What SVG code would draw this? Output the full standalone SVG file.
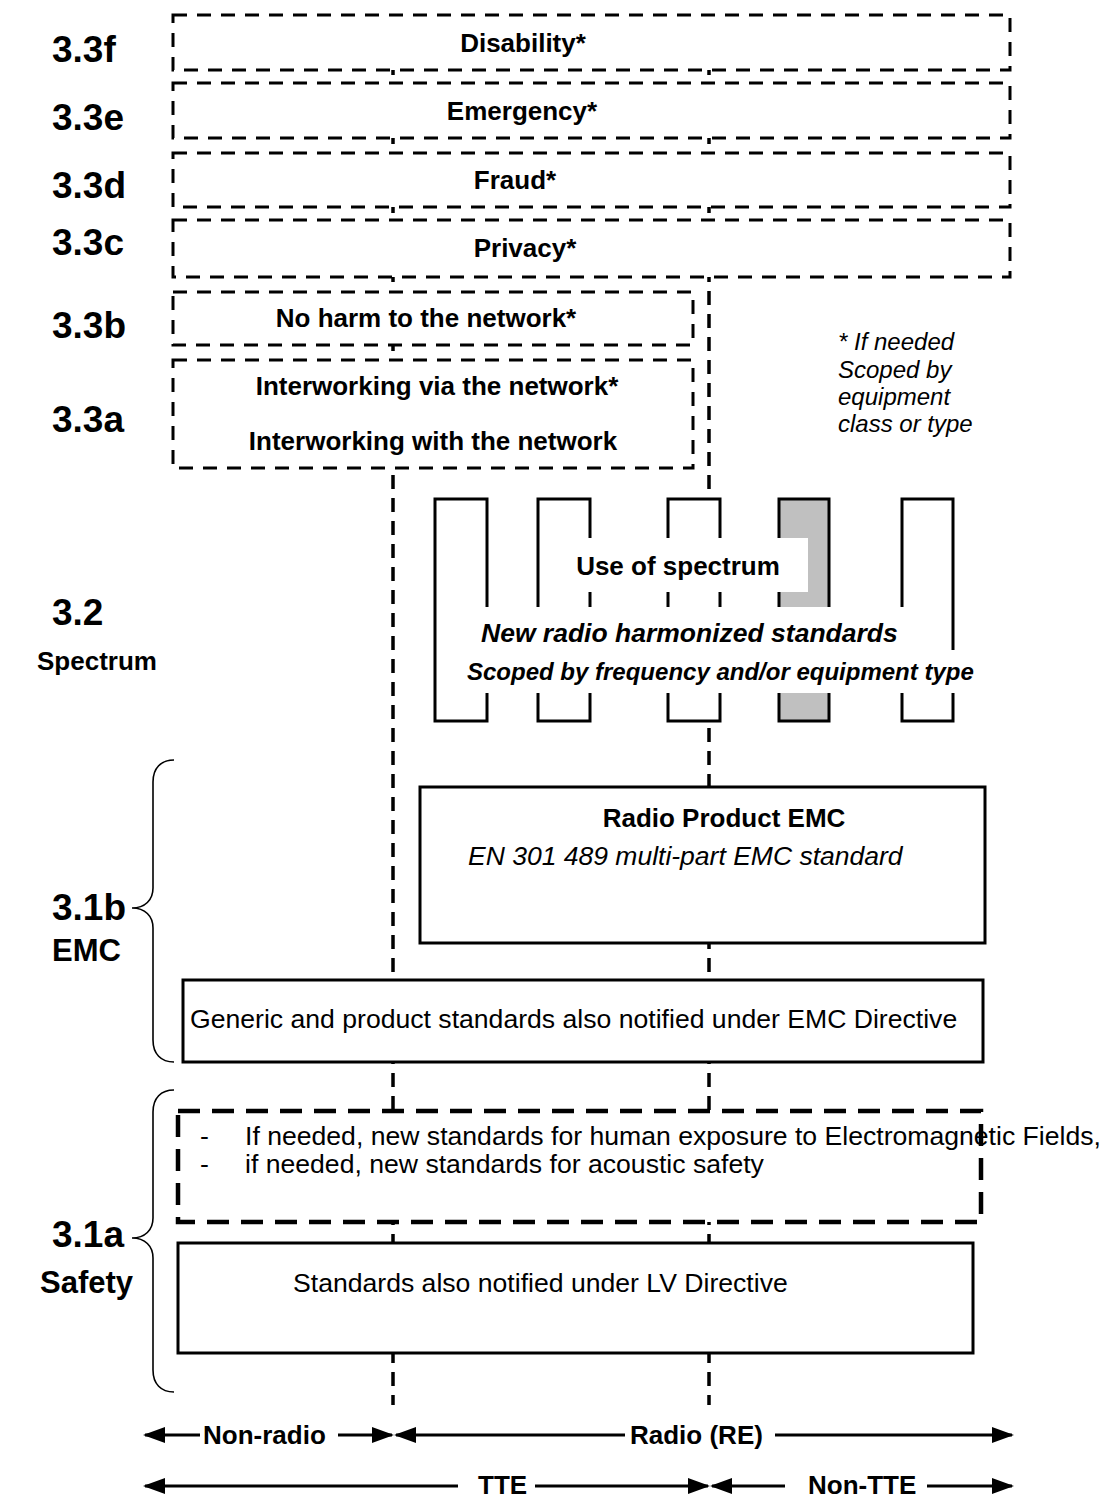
<svg xmlns="http://www.w3.org/2000/svg" width="1104" height="1499" viewBox="0 0 1104 1499">
<defs>
<marker id="ah" markerUnits="userSpaceOnUse" markerWidth="22" markerHeight="18" viewBox="0 0 22 18" refX="20" refY="9" orient="auto">
<path d="M0,1 L22,9 L0,17 z" fill="#000"/>
</marker>
<style>
text{font-family:"Liberation Sans",Arial,sans-serif;fill:#000}
.b{font-weight:bold;font-size:26px}
.r{font-size:26.6px}
.bi{font-weight:bold;font-style:italic;font-size:26.5px}
.i{font-style:italic;font-size:26.5px}
.num{font-weight:bold;font-size:37px}
.sec{font-weight:bold;font-size:31px}
.topbox{fill:#fff;stroke:#000;stroke-width:3;stroke-dasharray:14 10}
.solid{fill:#fff;stroke:#000;stroke-width:3}
.pillar{fill:#fff;stroke:#000;stroke-width:3}
.vdash{stroke:#000;stroke-width:3.5;stroke-dasharray:14 9;fill:none}
.arr{stroke:#000;stroke-width:3;fill:none;marker-end:url(#ah)}
.brace{fill:none;stroke:#000;stroke-width:1.6}
.wht{fill:#fff;stroke:none}
</style>
</defs>
<rect width="1104" height="1499" fill="#fff"/>

<g id="connectors">
<line class="vdash" x1="393" y1="15" x2="393" y2="1405"/>
<line class="vdash" x1="709" y1="15" x2="709" y2="1405"/>
<line class="arr" x1="200" y1="1435" x2="145" y2="1435"/>
<line class="arr" x1="338" y1="1435" x2="392" y2="1435"/>
<line class="arr" x1="625" y1="1435" x2="396" y2="1435"/>
<line class="arr" x1="775" y1="1435" x2="1012" y2="1435"/>
<line class="arr" x1="458" y1="1486" x2="145" y2="1486"/>
<line class="arr" x1="535" y1="1486" x2="708" y2="1486"/>
<line class="arr" x1="785" y1="1486" x2="712" y2="1486"/>
<line class="arr" x1="927" y1="1486" x2="1012" y2="1486"/>
</g>

<g id="labels">
<text class="num" x="52" y="62">3.3f</text>
<text class="num" x="52" y="130">3.3e</text>
<text class="num" x="52" y="198">3.3d</text>
<text class="num" x="52" y="255">3.3c</text>
<text class="num" x="52" y="338">3.3b</text>
<text class="num" x="52" y="432">3.3a</text>
<text class="num" x="52" y="625">3.2</text>
<text class="b" x="37" y="670">Spectrum</text>
<text class="num" x="52" y="920">3.1b</text>
<text class="sec" x="52" y="961">EMC</text>
<text class="num" x="52" y="1247">3.1a</text>
<text class="sec" x="40" y="1293">Safety</text>
<text class="i" x="838" y="350" style="font-size:24px">* If needed</text>
<text class="i" x="838" y="378" style="font-size:24px">Scoped by</text>
<text class="i" x="838" y="405" style="font-size:24px">equipment</text>
<text class="i" x="838" y="432" style="font-size:24px">class or type</text>
</g>

<g id="disability">
<rect class="topbox" x="173" y="15" width="837" height="55"/>
<text class="b" x="523" y="52" text-anchor="middle">Disability*</text>
</g>
<g id="emergency">
<rect class="topbox" x="173" y="83" width="837" height="55"/>
<text class="b" x="522" y="120" text-anchor="middle">Emergency*</text>
</g>
<g id="fraud">
<rect class="topbox" x="173" y="153" width="837" height="54"/>
<text class="b" x="515" y="189" text-anchor="middle">Fraud*</text>
</g>
<g id="privacy">
<rect class="topbox" x="173" y="220" width="837" height="57"/>
<text class="b" x="525" y="257" text-anchor="middle">Privacy*</text>
</g>
<g id="noharm">
<rect class="topbox" x="173" y="292" width="520" height="53"/>
<text class="b" x="426" y="327" text-anchor="middle">No harm to the network*</text>
</g>
<g id="interworking">
<rect class="topbox" x="173" y="360" width="520" height="108"/>
<text class="b" x="437" y="395" text-anchor="middle">Interworking via  the network*</text>
<text class="b" x="433" y="450" text-anchor="middle">Interworking with the network</text>
</g>

<g id="spectrum">
<rect class="pillar" x="435" y="499" width="52" height="222"/>
<rect class="pillar" x="538" y="499" width="52" height="222"/>
<rect class="pillar" x="668" y="499" width="52" height="222"/>
<rect class="pillar" x="779" y="499" width="50" height="222" style="fill:#c0c0c0"/>
<rect class="pillar" x="902" y="499" width="51" height="222"/>
<rect class="wht" x="543" y="538" width="265" height="54"/>
<rect class="wht" x="440" y="607" width="508" height="44"/>
<rect class="wht" x="440" y="650" width="535" height="43"/>
<text class="b" x="678" y="575" text-anchor="middle">Use of spectrum</text>
<text class="bi" x="481" y="642">New radio harmonized standards</text>
<text class="bi" x="467" y="680" style="font-size:24px">Scoped by frequency and/or equipment type</text>
</g>

<g id="radio-emc">
<rect class="solid" x="420" y="787" width="565" height="156"/>
<text class="b" x="724" y="827" text-anchor="middle">Radio Product EMC</text>
<text class="i" x="468" y="865">EN 301 489 multi-part EMC standard</text>
</g>

<g id="generic-emc">
<rect class="solid" x="183" y="980" width="800" height="82"/>
<text class="r" x="190" y="1028">Generic and product standards also notified under EMC Directive</text>
</g>

<g id="new-safety">
<rect class="wht" x="178" y="1111" width="803" height="111"/>
<text class="r" x="200" y="1145">-</text>
<text class="r" x="245" y="1145">If needed, new standards for human exposure to Electromagnetic Fields,</text>
<text class="r" x="200" y="1173">-</text>
<text class="r" x="245" y="1173">if needed, new standards for acoustic safety</text>
<rect x="178" y="1111" width="803" height="111" fill="none" stroke="#000" stroke-width="4.5" stroke-dasharray="22 12"/>
</g>

<g id="lv-safety">
<rect class="solid" x="178" y="1243" width="795" height="110"/>
<text class="r" x="293" y="1292">Standards also notified under LV Directive</text>
</g>

<g id="braces">
<path class="brace" d="M174,760 C161,760 153,768 153,782 L153,888 C153,900 145,908 132,908 C145,908 153,916 153,928 L153,1040 C153,1054 161,1062 174,1062"/>
<path class="brace" d="M174,1090 C161,1090 153,1098 153,1112 L153,1218 C153,1230 145,1238 132,1238 C145,1238 153,1246 153,1258 L153,1370 C153,1384 161,1392 174,1392"/>
</g>

<g id="axis-labels">
<text class="b" x="203" y="1444">Non-radio</text>
<text class="b" x="630" y="1444">Radio (RE)</text>
<text class="b" x="478" y="1494">TTE</text>
<text class="b" x="808" y="1494">Non-TTE</text>
</g>
</svg>
